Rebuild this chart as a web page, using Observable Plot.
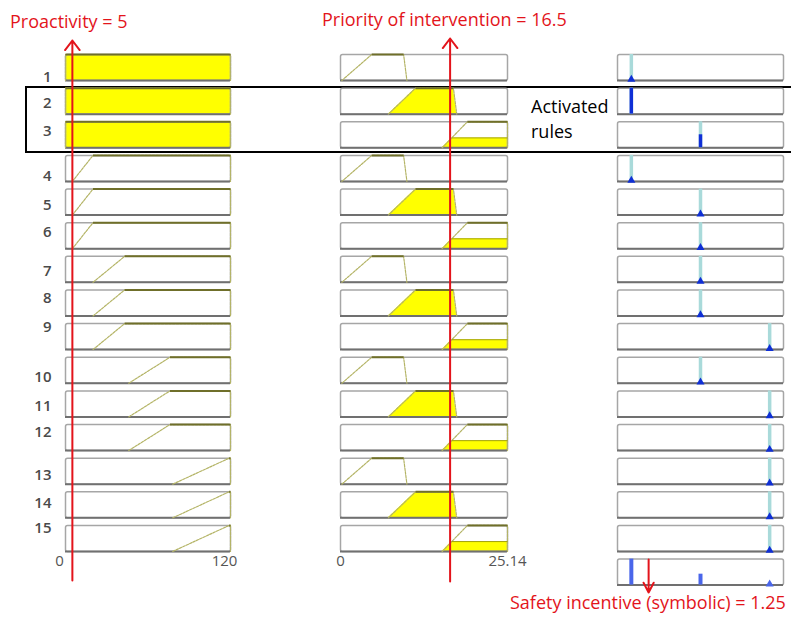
<!DOCTYPE html>
<html><head><meta charset="utf-8">
<script src="https://cdn.jsdelivr.net/npm/d3@7"></script>
<script src="https://cdn.jsdelivr.net/npm/@observablehq/plot@0.6"></script>
<style>
body{margin:0;background:#fff;font-family:"Open Sans",sans-serif}
#wrap{position:relative;width:791px;height:619px;overflow:hidden;background:#fff}
#wrap svg{position:absolute;top:0}
.t{position:absolute;white-space:nowrap;line-height:1;font-size:18px}
.red{color:#e3141b}
#box{position:absolute;left:25px;top:86px;width:800px;height:67px;border:2px solid #000;box-sizing:border-box}
</style></head><body><div id="wrap">
<div id="box"></div>
<div class="t red" style="left:10px;top:12px">Proactivity = 5</div>
<div class="t red" style="left:322px;top:10px">Priority of intervention = 16.5</div>
<div class="t red" style="left:510px;top:593px">Safety incentive (symbolic) = 1.25</div>
<div class="t" style="left:531px;top:97px">Activated</div>
<div class="t" style="left:531px;top:122px">rules</div>
</div>
<script>
// ---------- DATA ----------
const rules = [1,2,3,4,5,6,7,8,9,10,11,12,13,14,15];
const ruleLabels = ["1","2","3","4","5","6","7","8","9","10","11","12","13","14","15"];

// Input 1: Proactivity
const proactivityDomain = [0, 120];
const proactivityValue = 5;
const proactivityTicks = [0, 120];
const proactivityTickLabels = ["0", "120"];
// trapezoid corners [a,b,c,d] per rule
const proactivityMF = [
  [0,0,120,120],[0,0,120,120],[0,0,120,120],
  [5,20,120,120],[5,20,120,120],[5,20,120,120],
  [20,43,120,120],[20,43,120,120],[20,43,120,120],
  [46,76,120,120],[46,76,120,120],[46,76,120,120],
  [78,119,120,120],[78,119,120,120],[78,119,120,120]
];
const proactivityDegree = [1,1,1,0,0,0,0,0,0,0,0,0,0,0,0];

// Input 2: Priority of intervention
const priorityDomain = [0, 25.14];
const priorityValue = 16.5;
const priorityTicks = [0, 25.14];
const priorityTickLabels = ["0", "25.14"];
const priorityMF = [
  [0.2,4.7,9.5,10],[7.2,11.3,17.0,17.5],[15.3,19.1,25.14,25.14],
  [0.2,4.7,9.5,10],[7.2,11.3,17.0,17.5],[15.3,19.1,25.14,25.14],
  [0.2,4.7,9.5,10],[7.2,11.3,17.0,17.5],[15.3,19.1,25.14,25.14],
  [0.2,4.7,9.5,10],[7.2,11.3,17.0,17.5],[15.3,19.1,25.14,25.14],
  [0.2,4.7,9.5,10],[7.2,11.3,17.0,17.5],[15.3,19.1,25.14,25.14]
];
const priorityDegree = [0,1,0.38,0,1,0.38,0,1,0.38,0,1,0.38,0,1,0.38];

// Output: Safety incentive (symbolic)
const incentiveDomain = [0.8, 3.2];
const incentiveValue = 1.25;
const incentiveOutput = [1,1,2,1,2,2,2,2,3,2,3,3,3,3,3];
const incentiveStrength = [0,1,0.5,0,0,0,0,0,0,0,0,0,0,0,0];
const aggregateRow = 16;
const aggregateOutput = [1,2,3];
const aggregateHeight = [1,0.42,0];

// ---------- LAYOUT ----------
const H = 619, top0 = 54, pitch = 33.64, boxH = 26;
const padIn = (pitch - boxH) / pitch;
const labelNudge = [10,2,-4,8,3,-4,2,-5,-9,7,2,-5,4,-2,-10];
const wrap = document.getElementById("wrap");
const RED = "#e3141b";

function fyScale(n){
  return {domain: n, paddingInner: padIn, paddingOuter: 0, axis: null, round: false};
}
function bottomMargin(n){ return H - top0 - ((n-1)*pitch + boxH); }

function inputColumn({left, width, mL, mR, domain, mf, deg, ticks, tickLabels, labels, tickDx}){
  const rows = rules.map((r,i) => ({row: r, mf: mf[i], h: deg[i]}));
  const fillPts = rows.filter(d => d.h > 0).flatMap(d => {
    const [a,b,c,e] = d.mf, h = d.h;
    return [[a,0],[a+(b-a)*h,h],[e-(e-c)*h,h],[e,0]].map(([x,y]) => ({row: d.row, x, y}));
  });
  const linePts = rows.flatMap(d => {
    const [a,b,c,e] = d.mf;
    return [[a,0],[b,1],[c,1],[e,0]].map(([x,y]) => ({row: d.row, x, y}));
  });
  const clipTops = rows.filter(d => d.h > 0 && d.h < 1).map(d => {
    const [a,b,c,e] = d.mf, h = d.h;
    return {row: d.row, x1: a+(b-a)*h, x2: e-(e-c)*h, y: h};
  });
  const tickData = ticks.map((v,i) => ({v, label: tickLabels[i], row: rules[rules.length-1]}));
  const marks = [
    Plot.areaY(fillPts, {x: "x", y: "y", z: "row", fy: "row", fill: "#ffff00", curve: "linear"}),
    Plot.frame({stroke: "#a6a6a6", strokeWidth: 1.5, rx: 2}),
    Plot.ruleY([0], {stroke: "#707070", strokeWidth: 2}),
    Plot.line(linePts, {x: "x", y: "y", z: "row", fy: "row", stroke: "#b4b466", strokeWidth: 1.2, strokeDasharray: "2.5,1.2"}),
    Plot.link(clipTops, {x1: "x1", x2: "x2", y1: "y", y2: "y", fy: "row", stroke: "#a0a010", strokeWidth: 1}),
    Plot.link(rows, {x1: d => d.mf[1], x2: d => d.mf[2], y1: 1, y2: 1, fy: "row", stroke: "#6f6f2a", strokeWidth: 2}),
    Plot.text(tickData, {x: "v", text: "label", fy: "row", frameAnchor: "bottom", dy: 15, dx: tickDx,
      fontSize: 15, fill: "#555"})
  ];
  if (labels) {
    rules.forEach((r,i) => marks.push(Plot.text([{row: r, label: ruleLabels[i]}], {
      fy: "row", text: "label", frameAnchor: "left", textAnchor: "end", dx: -14, dy: labelNudge[i],
      fontSize: 15, fill: "#4a4a4a", fontWeight: 600
    })));
  }
  const svg = Plot.plot({
    width, height: H, marginLeft: mL, marginRight: mR, marginTop: top0, marginBottom: bottomMargin(15),
    x: {domain, axis: null}, y: {domain: [0,1], axis: null}, fy: fyScale(rules),
    style: {background: "transparent", color: "#4d4d4d", fontFamily: "'Open Sans', sans-serif", overflow: "visible"},
    marks
  });
  svg.style.left = left + "px";
  wrap.appendChild(svg);
}

function arrowOverlay({left, width, mL, mR, domain, value, yTop, yBottom, down}){
  const svg = Plot.plot({
    width, height: H, marginLeft: mL, marginRight: mR, marginTop: yTop, marginBottom: H - yBottom,
    x: {domain, axis: null}, y: {domain: [0,1], axis: null},
    style: {background: "transparent", overflow: "visible"},
    marks: [
      Plot.arrow([value], {x1: d => d, x2: d => d, y1: down ? 1 : 0, y2: down ? 0 : 1,
        stroke: RED, strokeWidth: 2, headLength: down ? 11 : 9, headAngle: down ? 55 : 75})
    ]
  });
  svg.style.left = left + "px";
  wrap.appendChild(svg);
}

// Left column: Proactivity
inputColumn({left: 0, width: 250, mL: 65, mR: 20, domain: proactivityDomain, mf: proactivityMF,
  deg: proactivityDegree, ticks: proactivityTicks, tickLabels: proactivityTickLabels, labels: true, tickDx: -6});
// Middle column: Priority of intervention
inputColumn({left: 300, width: 230, mL: 40, mR: 23, domain: priorityDomain, mf: priorityMF,
  deg: priorityDegree, ticks: priorityTicks, tickLabels: priorityTickLabels, labels: false, tickDx: 0});

// Right column: output
{
  const rows = rules.map((r,i) => ({row: r, out: incentiveOutput[i], w: incentiveStrength[i]}));
  const agg = aggregateOutput.map((o,i) => ({row: aggregateRow, out: o, w: aggregateHeight[i]}));
  const svg = Plot.plot({
    width: 201, height: H, marginLeft: 27, marginRight: 8, marginTop: top0, marginBottom: bottomMargin(16),
    x: {domain: incentiveDomain, axis: null}, y: {domain: [0,1], axis: null},
    fy: fyScale([...rules, aggregateRow]),
    style: {background: "transparent", overflow: "visible"},
    marks: [
      Plot.frame({stroke: "#a6a6a6", strokeWidth: 1.5, rx: 2}),
      Plot.ruleY([0], {stroke: "#707070", strokeWidth: 2}),
      Plot.ruleX(rows, {x: "out", y1: 0, y2: 1, fy: "row", stroke: "#a9dada", strokeWidth: 3.5}),
      Plot.ruleX(rows.filter(d => d.w > 0), {x: "out", y1: 0, y2: "w", fy: "row", stroke: "#0f2fd6", strokeWidth: 3.5}),
      Plot.dot(rows.filter(d => d.w === 0), {x: "out", y: 0, fy: "row", symbol: "triangle", r: 3, fill: "#0f2fd6", dy: -1}),
      Plot.ruleX(agg.filter(d => d.w > 0), {x: "out", y1: 0, y2: "w", fy: "row", stroke: "#4a66ea", strokeWidth: 4}),
      Plot.dot(agg.filter(d => d.w === 0), {x: "out", y: 0, fy: "row", symbol: "triangle", r: 3, fill: "#4a66ea", dy: -1})
    ]
  });
  svg.style.left = "590px";
  wrap.appendChild(svg);
}

// Red value markers
arrowOverlay({left: 0, width: 250, mL: 65, mR: 20, domain: proactivityDomain, value: proactivityValue, yTop: 40, yBottom: 580});
arrowOverlay({left: 300, width: 230, mL: 40, mR: 23, domain: priorityDomain, value: priorityValue, yTop: 38, yBottom: 581});
arrowOverlay({left: 590, width: 201, mL: 27, mR: 8, domain: incentiveDomain, value: incentiveValue, yTop: 559, yBottom: 592, down: true});
</script></body></html>
